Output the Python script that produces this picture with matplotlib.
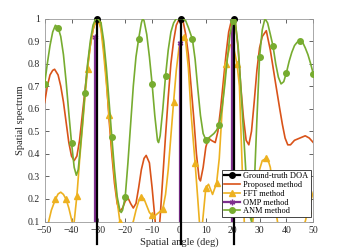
import numpy as np
import matplotlib.pyplot as plt

plt.rcParams['font.family'] = ['Liberation Serif', 'DejaVu Serif']

# ground truth and OMP stems
doa_true = [-30.5, 0.8, 20.5]
omp_ang = [-31.3, 0.4, 19.9]
omp_val = [0.92, 0.89, 1.0]

# ANM method
anm_ang = [-50, -49, -48, -47, -46, -45, -44, -43, -42, -41, -40, -39, -38.2, -37.5, -37, -36, -35,
           -34, -33, -32, -31, -30.3, -29, -28, -27, -26, -25, -24, -23, -22, -21.5, -21, -20,
           -19, -18, -17, -16, -15, -14, -13.5, -13, -12, -11, -10, -9, -8, -7.6, -7, -6, -5,
           -4, -3, -2, -1, 0.5, 1.5, 2.5, 3.5, 5, 6, 7, 8, 9, 10, 11, 12, 13, 14, 15,
           16, 17, 18, 19, 20, 20.5, 21, 22, 23, 24, 25, 26, 27, 28, 29, 30,
           31, 32, 33, 34, 35, 36, 37, 38, 39, 40, 41, 42, 43, 44, 45, 46, 47, 48, 49, 50]
anm_val = [0.71, 0.80, 0.88, 0.94, 0.97, 0.96, 0.92, 0.84, 0.72, 0.58, 0.45, 0.34, 0.305, 0.33, 0.39, 0.52, 0.67,
           0.80, 0.90, 0.97, 1.0, 1.0, 0.98, 0.90, 0.78, 0.63, 0.475, 0.33, 0.21, 0.15, 0.14, 0.15, 0.21,
           0.36, 0.53, 0.70, 0.83, 0.91, 0.98, 1.0, 0.99, 0.93, 0.83, 0.71, 0.57, 0.46, 0.45, 0.48, 0.60, 0.745,
           0.86, 0.94, 0.98, 1.0, 1.0, 1.0, 0.99, 0.96, 0.908, 0.82, 0.69, 0.57, 0.49, 0.463, 0.47, 0.48, 0.49, 0.505, 0.53,
           0.60, 0.70, 0.82, 0.93, 0.99, 1.0, 0.98, 0.88, 0.70, 0.50, 0.30, 0.14, 0.1, 0.25, 0.55, 0.83,
           0.95, 1.0, 0.98, 0.93, 0.878, 0.80, 0.74, 0.71, 0.72, 0.76, 0.81, 0.85, 0.88, 0.895, 0.90, 0.895, 0.87, 0.84, 0.80, 0.755]
anm_marks = list(range(-50, 51, 5))

# proposed method
prop_ang = [-50, -49, -48, -47, -46.3, -45, -44, -43, -42, -41, -40, -39, -38, -37, -36, -35, -34, -33,
            -32, -31, -30.5, -30, -29, -28, -27, -26, -25, -24, -23, -22, -21, -20, -19, -18, -17,
            -16, -15, -14, -13, -12.2, -11, -10, -9, -8.5, -7.5, -7, -6, -5, -4, -3, -2, -1, 0,
            0.7, 1.5, 2.5, 3.5, 4.5, 5.5, 6.5, 7.5, 8, 9, 10, 11, 12, 13.5, 14.5, 15.5, 16.5, 17.5,
            18.5, 19.5, 20.3, 21, 22, 23, 24, 25, 26, 27, 28, 29, 30, 31, 32.5, 34, 36, 37.5,
            38.5, 39.5, 40.5, 41.5, 43, 45, 47, 48.5, 50]
prop_val = [0.627, 0.70, 0.75, 0.77, 0.775, 0.75, 0.70, 0.63, 0.54, 0.45, 0.39, 0.37, 0.39, 0.46, 0.57, 0.68, 0.79, 0.88,
            0.95, 0.99, 1.0, 0.995, 0.96, 0.87, 0.73, 0.55, 0.40, 0.27, 0.18, 0.145, 0.16, 0.19, 0.205, 0.18, 0.16,
            0.18, 0.25, 0.33, 0.38, 0.393, 0.36, 0.25, 0.12, 0.05, 0.05, 0.12, 0.30, 0.48, 0.65, 0.80, 0.90, 0.97, 0.995,
            1.0, 0.99, 0.93, 0.84, 0.70, 0.56, 0.40, 0.29, 0.28, 0.34, 0.43, 0.47, 0.46, 0.45, 0.50, 0.60, 0.72, 0.84,
            0.94, 0.99, 1.0, 0.98, 0.87, 0.70, 0.56, 0.46, 0.44, 0.50, 0.63, 0.77, 0.87, 0.92, 0.946, 0.86, 0.71, 0.60,
            0.53, 0.47, 0.44, 0.44, 0.46, 0.47, 0.48, 0.47, 0.45]

# FFT method
fft_ang = [-50, -49, -48.5, -47.5, -46, -45, -44, -43, -42, -41, -40, -39.5, -39, -38, -37, -36, -35, -34,
           -33, -32, -31, -30.5, -30, -29, -28, -27, -26, -25, -24, -23, -22, -21, -20, -19, -18, -17,
           -16, -15, -14, -13, -12, -11, -10, -9, -8, -7, -6, -5, -4, -3, -2, -1, 0, 1, 2, 2.5,
           3.5, 4.5, 6, 7, 7.6, 8, 8.8, 10, 11, 12.5, 14, 15, 16, 17.5, 19, 20, 21.6, 22.5, 23.5,
           24.3, 25, 26, 27, 28, 29, 30, 31, 32.5, 33.5, 34, 35, 36, 38, 40, 42, 44, 46, 47, 48, 49, 50]
fft_val = [0.03, 0.05, 0.10, 0.15, 0.198, 0.222, 0.23, 0.22, 0.198, 0.16, 0.11, 0.08, 0.10, 0.213, 0.37, 0.51, 0.65, 0.777,
           0.88, 0.95, 0.99, 1.0, 0.995, 0.95, 0.84, 0.71, 0.572, 0.43, 0.30, 0.19, 0.10, 0.04, 0.03, 0.06, 0.08, 0.10,
           0.15, 0.19, 0.207, 0.20, 0.17, 0.14, 0.127, 0.125, 0.135, 0.145, 0.157, 0.22, 0.33, 0.48, 0.63, 0.77, 0.87, 0.915, 0.92, 0.90,
           0.78, 0.58, 0.36, 0.2, 0.1, 0.06, 0.1, 0.25, 0.265, 0.22, 0.27, 0.38, 0.58, 0.80, 0.88, 0.89, 0.80, 0.70, 0.35,
           0.1, 0.02, 0.0, 0.05, 0.15, 0.25, 0.33, 0.37, 0.38, 0.36, 0.34, 0.25, 0.15, 0.0, -0.05, 0.0, 0.03, 0.08, 0.1, 0.15, 0.19, 0.23]
fft_marks = [-46, -42, -38, -34, -30, -26, -22, -18, -14, -10, -6, -2, 2, 6, 10, 14, 17.5, 21.6, 25, 29, 32.5, 36, 40, 44, 48]

fig = plt.figure(figsize=(3.46, 2.49), dpi=100)
ax = fig.add_axes([0.129, 0.1104, 0.7765, 0.8153])

c_prop = '#D95319'
c_fft = '#EDB120'
c_omp = '#7E2F8E'
c_anm = '#77AC30'

lw = 1.2
ax.plot(prop_ang, prop_val, color=c_prop, lw=lw, label='Proposed method', zorder=3)
ax.plot(fft_ang, fft_val, color=c_fft, lw=lw, marker='^', ms=4,
        markevery=[a in fft_marks for a in fft_ang], label='FFT method', zorder=4)

# stems
for i, a in enumerate(omp_ang):
    ax.plot([a, a], [0, omp_val[i]], color=c_omp, lw=1.6, marker=(6, 2, 0), ms=4,
            markevery=[1], zorder=5, label='OMP method' if i == 0 else None)
for i, a in enumerate(doa_true):
    ax.plot([a, a], [0, 1], color='black', lw=1.6, marker='o', ms=4,
            markevery=[1], zorder=6, clip_on=False, label='Ground-truth DOA' if i == 0 else None)

ax.plot(anm_ang, anm_val, color=c_anm, lw=lw, marker='o', ms=4,
        markevery=[a in anm_marks for a in anm_ang], label='ANM method', zorder=7)

ax.set_xlim(-50, 50)
ax.set_ylim(0.1, 1)
ax.set_xticks(range(-50, 51, 10))
ax.set_yticks(np.arange(0.1, 1.01, 0.1))
ax.set_yticklabels(['0.1', '0.2', '0.3', '0.4', '0.5', '0.6', '0.7', '0.8', '0.9', '1'])
ax.tick_params(direction='in', labelsize=7, length=3, width=0.5, colors='#262626', top=True, right=True)
ax.tick_params(axis='x', pad=3)
for s in ax.spines.values():
    s.set_color('#9a9a9a')
    s.set_linewidth(0.6)
ax.set_xlabel('Spatial angle (deg)', fontsize=7.5, color='#262626', labelpad=2)
ax.set_ylabel('Spatial spectrum', fontsize=7.5, color='#262626', labelpad=2)

h, l = ax.get_legend_handles_labels()
order = ['Ground-truth DOA', 'Proposed method', 'FFT method', 'OMP method', 'ANM method']
hs = [h[l.index(o)] for o in order]
leg = ax.legend(hs, order, loc='lower right', bbox_to_anchor=(0.99, 0.02), fontsize=6,
                frameon=True, fancybox=False, edgecolor='#262626', framealpha=1,
                handlelength=1.9, handletextpad=0.4, borderpad=0.25, labelspacing=0.1, borderaxespad=0)
leg.get_frame().set_linewidth(0.6)
leg.set_zorder(10)

fig.savefig('out.png', dpi=100)
